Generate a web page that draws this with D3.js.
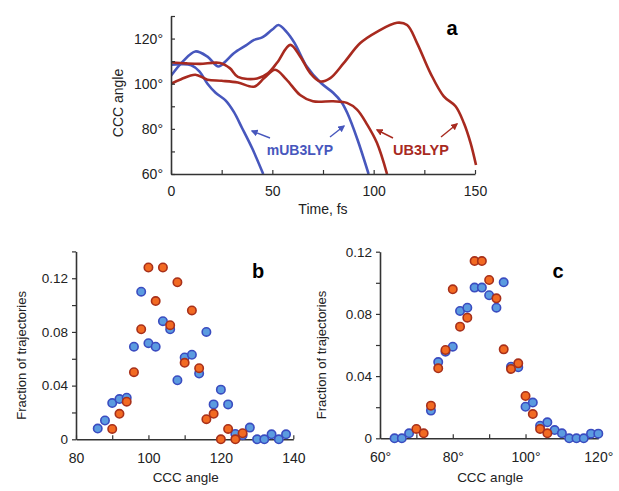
<!DOCTYPE html>
<html>
<head>
<meta charset="utf-8">
<script src="https://cdn.jsdelivr.net/npm/d3@7"></script>
<style>
  body { margin: 0; background: #fff; }
  svg { font-family: "Liberation Sans", Arial, sans-serif; }
</style>
</head>
<body>
<svg id="plot" width="619" height="491"></svg>
<script>
// panel a: CCC angle vs time, [fs, degrees]
let blueA = [[0, 103.5], [6, 110], [12, 114.3], [18, 112], [23.4, 107.6], [27, 110], [31, 113.5], [37, 117],
  [41, 119.4], [45, 120.5], [50, 124], [53, 126], [57, 123], [61, 118], [67, 107.6], [74, 100.3],
  [80, 96], [84, 92], [87, 87], [92, 75.3], [97.5, 60]];
let blueB = [[0, 108.4], [5, 108.6], [10, 108.2], [14, 105.5], [18, 100], [22, 96], [27, 92.5], [31, 87.5],
  [35, 80.5], [40, 71.5], [45.5, 60]];
let redA = [[0, 100], [5, 102], [12, 104], [18, 101.8], [25, 101.3], [33, 100.5], [41, 98.7], [46, 102.5],
  [51.4, 106.2], [57, 101.8], [63.7, 95], [70, 92.2], [80, 92.2], [86.8, 91.5], [91.8, 88.5],
  [96.7, 82], [101.6, 73.8], [106.6, 60]];
let redB = [[0, 109.5], [7.7, 109], [14.3, 108.8], [24.2, 109.2], [29, 106.9], [33, 103], [42.5, 102.3],
  [47.8, 104.6], [52.5, 109.5], [58.8, 117.2], [63.8, 112], [68.7, 104.7], [73.6, 101], [78.6, 102.5],
  [85.2, 109.1], [93.4, 118], [101.6, 123], [111.5, 127], [116.5, 126], [121.4, 118], [128, 104.7],
  [134.6, 94.4], [140.4, 90], [144.5, 82.6], [147.8, 73.8], [150.5, 64]];

// panel b: fraction of trajectories vs CCC angle
let bBlue = [[86, 0.008], [88, 0.014], [90, 0.027], [92, 0.030], [94, 0.031], [96, 0.069], [98, 0.110],
  [100, 0.0716], [102, 0.069], [104, 0.088], [106, 0.082], [108, 0.044], [110, 0.061], [112, 0.063],
  [114, 0.049], [116, 0.080], [118, 0.026], [120, 0.037], [122, 0.026], [124, 0.004], [126, 0.003],
  [128, 0.0087], [130, 0], [132, 0], [134, 0.0037], [136, 0], [138, 0.0037]];
let bOrange = [[90, 0.0077], [92, 0.019], [94, 0.028], [96, 0.050], [98, 0.082], [100, 0.128], [102, 0.103],
  [104, 0.128], [106, 0.085], [108, 0.117], [110, 0.057], [112, 0.096], [114, 0.053], [116, 0.015],
  [118, 0.019], [120, 0], [122, 0.0077], [124, 0], [126, 0.0045]];

// panel c
let cBlue = [[64, 0], [66, 0], [68, 0.0032], [74, 0.0178], [76, 0.049], [78, 0.0557], [80, 0.0589],
  [82, 0.0819], [84, 0.084], [86, 0.0969], [88, 0.0969], [90, 0.092], [92, 0.084], [94, 0.1003],
  [96, 0.046], [98, 0.0457], [100, 0.0203], [102, 0.023], [104, 0.0081], [106, 0.0103], [108, 0.0053],
  [110, 0.0032], [112, 0], [114, 0], [116, 0], [118, 0.003], [120, 0.003]];
let cOrange = [[70, 0.006], [72, 0.0032], [74, 0.021], [76, 0.045], [78, 0.0568], [80, 0.0958], [82, 0.0718],
  [84, 0.0776], [86, 0.114], [88, 0.114], [90, 0.1018], [92, 0.090], [94, 0.0572], [96, 0.0446],
  [98, 0.0482], [100, 0.0272], [102, 0.0156], [104, 0.006], [106, 0.0032]];

let aXTicks = [0, 50, 100, 150];
let aYTicks = [60, 80, 100, 120];
let bXTicks = [80, 100, 120, 140];
let cXTicks = [60, 80, 100, 120];
let fracTicks = [0, 0.04, 0.08, 0.12];

let blueLine = "#4757bd";
let redLine = "#a82a1f";
let axisCol = "#333";

let svg = d3.select("#plot");

function styleAxis(g) {
  g.select(".domain").attr("stroke", axisCol).attr("stroke-width", 1.6);
  g.selectAll(".tick line").attr("stroke", axisCol).attr("stroke-width", 1.2);
  g.selectAll(".tick text").attr("fill", "#222").style("font-size", "13.5px");
}

// ---------- panel a ----------
let xa = d3.scaleLinear().domain([0, 150]).range([171, 475]);
let ya = d3.scaleLinear().domain([60, 130]).range([174, 16]);

svg.append("defs").append("clipPath").attr("id", "clipA")
  .append("rect").attr("x", xa(0)).attr("y", ya(130))
  .attr("width", xa(150) - xa(0) + 8).attr("height", ya(60) - ya(130));

let line = d3.line()
    .x(d => xa(d[0]))
    .y(d => ya(d[1]))
    .curve(d3.curveCatmullRom.alpha(0.5));

let curves = [[blueA, blueLine], [blueB, blueLine], [redA, redLine], [redB, redLine]];
svg.append("g").attr("clip-path", "url(#clipA)")
  .selectAll("path")
  .data(curves)
  .join("path")
    .attr("d", d => line(d[0]))
    .attr("fill", "none")
    .attr("stroke", d => d[1])
    .attr("stroke-width", 2.6)
    .attr("stroke-linejoin", "round");

svg.append("g")
    .attr("transform", `translate(0, ${ya(60)})`)
    .call(d3.axisBottom(xa).tickValues(d3.range(0, 151, 25)).tickSize(-4).tickSizeOuter(0)
      .tickFormat(d => aXTicks.includes(d) ? d : "").tickPadding(12))
    .call(styleAxis)
    .call(g => g.selectAll(".tick text").style("font-size", "14px"));

svg.append("g")
    .attr("transform", `translate(${xa(0)}, 0)`)
    .call(d3.axisLeft(ya).tickValues(d3.range(60, 131, 10)).tickSize(-4).tickSizeOuter(0)
      .tickFormat(d => aYTicks.includes(d) ? d + "°" : "").tickPadding(8))
    .call(styleAxis)
    .call(g => g.selectAll(".tick text").style("font-size", "14px"));

svg.append("text")
    .attr("transform", `translate(123, ${(ya(60) + ya(130)) / 2 + 8}) rotate(-90)`)
    .attr("text-anchor", "middle")
    .style("font-size", "14px").attr("fill", "#222")
    .text("CCC angle");

svg.append("text")
    .attr("x", 323).attr("y", 214)
    .attr("text-anchor", "middle")
    .style("font-size", "14px").attr("fill", "#222")
    .text("Time, fs");

svg.append("text")
    .attr("x", 452).attr("y", 35)
    .attr("text-anchor", "middle")
    .style("font-size", "20px").style("font-weight", "bold")
    .text("a");

// labels with arrows
let markers = svg.select("defs");
[["arrBlue", blueLine], ["arrRed", redLine]].forEach(([id, c]) => {
  markers.append("marker")
      .attr("id", id)
      .attr("viewBox", "0 0 10 10")
      .attr("refX", 8).attr("refY", 5)
      .attr("markerWidth", 5).attr("markerHeight", 5)
      .attr("orient", "auto")
    .append("path")
      .attr("d", "M0,0L10,5L0,10z")
      .attr("fill", c);
});

let arrows = [
  [[270, 138], [252, 131], blueLine, "arrBlue"],
  [[330, 137], [344, 126], blueLine, "arrBlue"],
  [[393, 138], [377, 130], redLine, "arrRed"],
  [[441, 137], [457, 124], redLine, "arrRed"]
];
svg.append("g").selectAll("line")
  .data(arrows)
  .join("line")
    .attr("x1", d => d[0][0]).attr("y1", d => d[0][1])
    .attr("x2", d => d[1][0]).attr("y2", d => d[1][1])
    .attr("stroke", d => d[2])
    .attr("stroke-width", 1.4)
    .attr("marker-end", d => `url(#${d[3]})`);

svg.append("text")
    .attr("x", 300).attr("y", 155)
    .attr("text-anchor", "middle")
    .style("font-size", "14px").style("font-weight", "bold")
    .attr("fill", blueLine)
    .text("mUB3LYP");

svg.append("text")
    .attr("x", 421).attr("y", 155)
    .attr("text-anchor", "middle")
    .style("font-size", "14.5px").style("font-weight", "bold")
    .attr("fill", redLine)
    .text("UB3LYP");

// ---------- panels b and c ----------
function drawScatter(opts) {
  let x = d3.scaleLinear().domain(opts.xDomain).range(opts.xRange);
  let y = d3.scaleLinear().domain(opts.yDomain).range(opts.yRange);

  svg.append("g")
      .attr("transform", `translate(0, ${opts.yRange[0]})`)
      .call(d3.axisBottom(x).tickValues(d3.range(opts.xDomain[0], opts.xDomain[1] + 1, 10))
        .tickSize(-4).tickSizeOuter(0)
        .tickFormat(d => opts.xTicks.includes(d) ? d + opts.suffix : "").tickPadding(14))
      .call(styleAxis)
      .call(g => g.selectAll(".tick text").style("font-size", "14px"));

  svg.append("g")
      .attr("transform", `translate(${opts.xRange[0]}, 0)`)
      .call(d3.axisLeft(y).tickValues(d3.range(0, opts.yDomain[1] + 0.001, 0.02))
        .tickSize(4).tickSizeOuter(0)
        .tickFormat(d => fracTicks.some(t => Math.abs(t - d) < 1e-6) ? d3.format("~g")(+d.toFixed(2)) : "")
        .tickPadding(4))
      .call(styleAxis)
      .call(g => g.selectAll(".tick text").style("font-size", "13.5px"));

  let series = [[opts.blue, "#5b9be0", "#3a4cc0"], [opts.orange, "#f26a22", "#a8301a"]];
  series.forEach(([data, fill, stroke]) => {
    svg.append("g").selectAll("circle")
      .data(data)
      .join("circle")
        .attr("cx", d => x(d[0]))
        .attr("cy", d => y(d[1]))
        .attr("r", 4.2)
        .attr("fill", fill)
        .attr("stroke", stroke)
        .attr("stroke-width", 1.6);
  });

  svg.append("text")
      .attr("transform", `translate(${opts.yLabelX}, ${(opts.yRange[0] + opts.yRange[1]) / 2 + 10}) rotate(-90)`)
      .attr("text-anchor", "middle")
      .style("font-size", "13px").attr("fill", "#222")
      .text("Fraction of trajectories");

  svg.append("text")
      .attr("x", (opts.xRange[0] + opts.xRange[1]) / 2 + 1).attr("y", 482)
      .attr("text-anchor", "middle")
      .style("font-size", "13.5px").attr("fill", "#222")
      .text("CCC angle");

  svg.append("text")
      .attr("x", opts.letterX).attr("y", 278)
      .attr("text-anchor", "middle")
      .style("font-size", "20px").style("font-weight", "bold")
      .text(opts.letter);
}

drawScatter({
  xDomain: [80, 140], xRange: [76, 293.3],
  yDomain: [0, 0.14], yRange: [439.3, 251.4],
  xTicks: bXTicks, suffix: "",
  blue: bBlue, orange: bOrange,
  yLabelX: 26, letter: "b", letterX: 258
});

drawScatter({
  xDomain: [60, 120], xRange: [380, 598.3],
  yDomain: [0, 0.12], yRange: [438.3, 251.7],
  xTicks: cXTicks, suffix: "°",
  blue: cBlue, orange: cOrange,
  yLabelX: 326, letter: "c", letterX: 558
});
</script>
</body>
</html>
